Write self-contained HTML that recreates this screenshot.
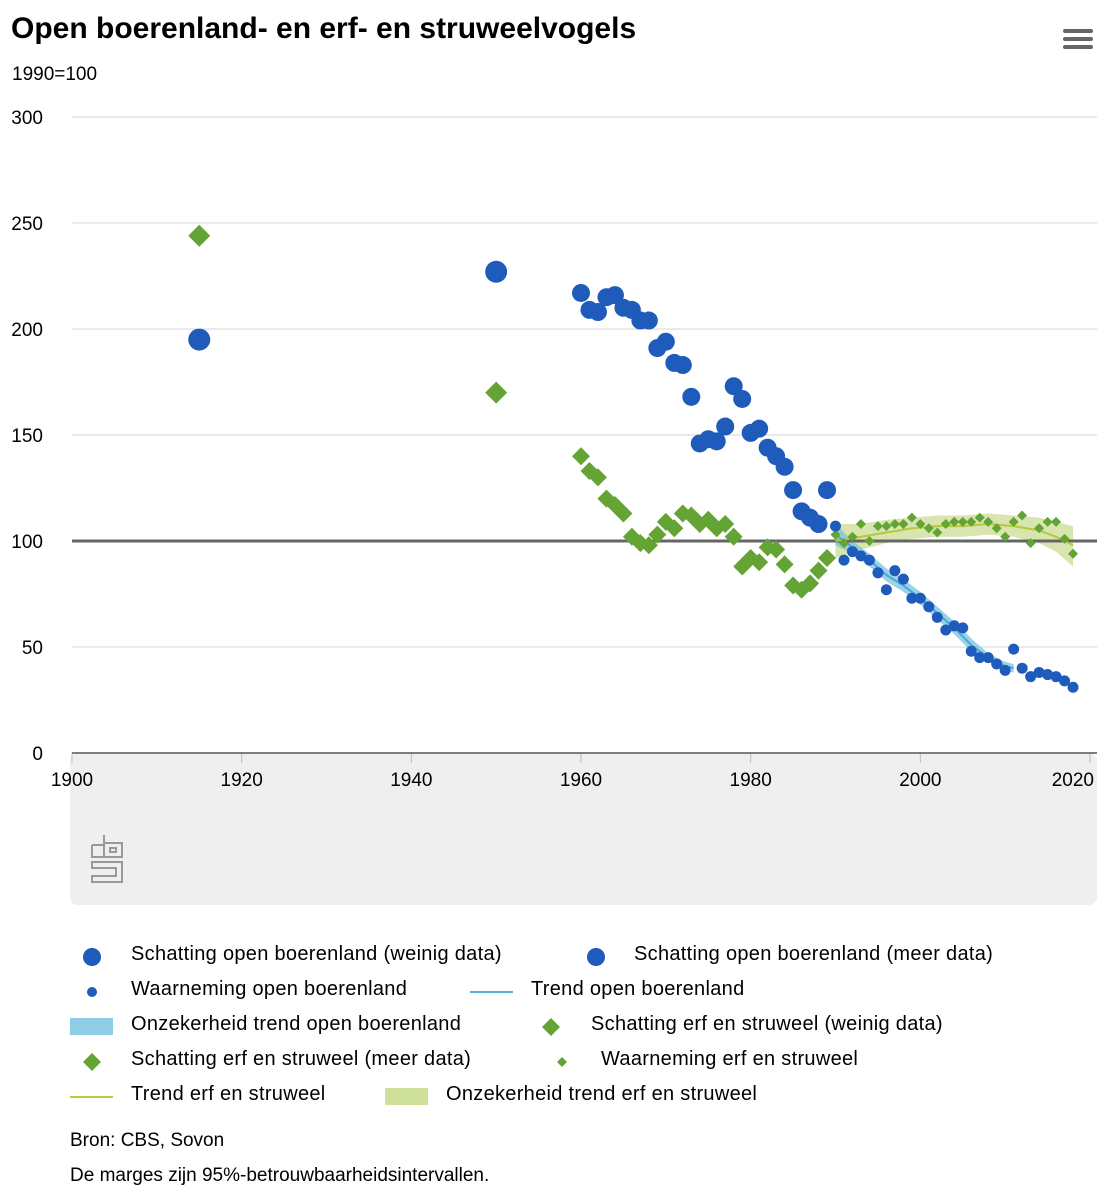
<!DOCTYPE html>
<html><head><meta charset="utf-8"><style>
body{margin:0;background:#fff;font-family:"Liberation Sans",sans-serif;color:#000}
#wrap{position:relative;width:1113px;height:1200px;overflow:hidden}
.t{position:absolute;white-space:nowrap}
.leg{position:absolute;font-size:20px;white-space:nowrap;letter-spacing:0.3px}
</style></head><body><div id="wrap">
<div class="t" style="left:11px;top:12px;font-size:30px;font-weight:bold;">Open boerenland- en erf- en struweelvogels</div>
<div class="t" style="left:12px;top:64px;font-size:19px;">1990=100</div>
<div style="position:absolute;left:1063px;top:29px;width:30px;height:24px;">
<div style="height:4px;background:#666;border-radius:2px;margin-bottom:4px"></div><div style="height:4px;background:#666;border-radius:2px;margin-bottom:4px"></div><div style="height:4px;background:#666;border-radius:2px"></div></div>
<svg id="c" width="1113" height="920" style="position:absolute;left:0;top:0"></svg>
<div class="leg" style="left:0;top:0">
<svg width="1113" height="1200" style="position:absolute;left:0;top:0">
<circle cx="92" cy="957" r="9" fill="#1f5bbb"/><circle cx="596" cy="957" r="9" fill="#1f5bbb"/>
<circle cx="92" cy="992" r="5" fill="#1f5bbb"/><line x1="470" y1="992" x2="513" y2="992" stroke="#5aafd8" stroke-width="2"/>
<rect x="70" y="1018" width="43" height="17" fill="#8fcde6"/><path d="M551 1018l9 9-9 9-9-9z" fill="#64a435"/>
<path d="M92 1053l9 9-9 9-9-9z" fill="#64a435"/><path d="M562 1057l5 5-5 5-5-5z" fill="#64a435"/>
<line x1="70" y1="1097" x2="113" y2="1097" stroke="#b8cc3c" stroke-width="2"/><rect x="385" y="1088" width="43" height="17" fill="#cfe09a"/>
</svg></div>
<div class="leg" style="left:131px;top:943px">Schatting open boerenland (weinig data)</div>
<div class="leg" style="left:634px;top:943px">Schatting open boerenland (meer data)</div>
<div class="leg" style="left:131px;top:978px">Waarneming open boerenland</div>
<div class="leg" style="left:531px;top:978px">Trend open boerenland</div>
<div class="leg" style="left:131px;top:1013px">Onzekerheid trend open boerenland</div>
<div class="leg" style="left:591px;top:1013px">Schatting erf en struweel (weinig data)</div>
<div class="leg" style="left:131px;top:1048px">Schatting erf en struweel (meer data)</div>
<div class="leg" style="left:601px;top:1048px">Waarneming erf en struweel</div>
<div class="leg" style="left:131px;top:1083px">Trend erf en struweel</div>
<div class="leg" style="left:446px;top:1083px">Onzekerheid trend erf en struweel</div>
<div class="t" style="left:70px;top:1130px;font-size:19px;">Bron: CBS, Sovon</div>
<div class="t" style="left:70px;top:1165px;font-size:19px;">De marges zijn 95%-betrouwbaarheidsintervallen.</div>
</div>
<script>
const yTicks=[0,50,100,150,200,250,300];
const xTicks=[1900,1920,1940,1960,1980,2000,2020];
const blueWeinigYears=[1915,1950];
const blueWeinig=[195,227];
const meerYears=[1960,1961,1962,1963,1964,1965,1966,1967,1968,1969,1970,1971,1972,1973,1974,1975,1976,1977,1978,1979,1980,1981,1982,1983,1984,1985,1986,1987,1988,1989];
const blueMeer=[217,209,208,215,216,210,209,204,204,191,194,184,183,168,146,148,147,154,173,167,151,153,144,140,135,124,114,111,108,124];
const obsYears=[1990,1991,1992,1993,1994,1995,1996,1997,1998,1999,2000,2001,2002,2003,2004,2005,2006,2007,2008,2009,2010,2011,2012,2013,2014,2015,2016,2017,2018];
const blueObs=[107,91,95,93,91,85,77,86,82,73,73,69,64,58,60,59,48,45,45,42,39,49,40,36,38,37,36,34,31];
const blueTrendYears=[1990,1992,1994,1996,1998,2000,2002,2004,2006,2008,2010,2011];
const blueTrend=[103,97,91,84,79,73,66,59,51,45,41,40];
const blueTrendLo=[98,94,88,81,76,70,63,56,48,43,39,38];
const blueTrendHi=[108,100,94,87,82,76,69,62,54,47,43,42];
const greenWeinig=[244,170];
const greenMeer=[140,133,130,120,117,113,102,99,98,103,109,106,113,112,108,110,106,108,102,88,92,90,97,96,89,79,77,80,86,92];
const greenObs=[103,99,102,108,100,107,107,108,108,111,108,106,104,108,109,109,109,111,109,106,102,109,112,99,106,109,109,101,94];
const greenTrendYears=[1990,1993,1996,1999,2002,2005,2008,2011,2014,2016,2018];
const greenTrend=[100,102,104,106,107,107,108,107,105,102,98];
const greenTrendLo=[92,96,99,101,102,102,103,102,99,95,88];
const greenTrendHi=[108,108,110,111,112,112,113,112,111,109,107];

const X=y=>72+(y-1900)*(1090-72)/120;
const Y=v=>753-v*(753-117)/300;
const svg=document.getElementById('c');const NS='http://www.w3.org/2000/svg';
function mk(tag,at,txt){const e=document.createElementNS(NS,tag);for(const k in at)e.setAttribute(k,at[k]);if(txt!==undefined)e.textContent=txt;svg.appendChild(e);return e;}
let g=mk('rect',{x:70,y:753,width:1027,height:152,rx:8,fill:'#efefef'});


yTicks.forEach(v=>{
 if(v>0&&v!==100){const l=mk('line',{x1:72,x2:1097,y1:Y(v),y2:Y(v),stroke:'#d6d6d6','stroke-width':1});
 
 }
 const t=mk('text',{x:43,y:Y(v)+7,'text-anchor':'end','font-size':19,fill:'#000'},String(v));
 
 
});
xTicks.forEach((v,i)=>{
 const l=mk('line',{x1:X(v),x2:X(v),y1:753,y2:763,stroke:'#bbb'});
 
 
 const last=i===xTicks.length-1;
 const t=mk('text',{x:last?1094:X(v),y:786,'text-anchor':last?'end':'middle','font-size':19,fill:'#000'},String(v));
 
 
});
let ax=mk('line',{x1:72,x2:1097,y1:753,y2:753,stroke:'#555','stroke-width':1.5});


let lg=mk('g',{fill:'none',stroke:'#999','stroke-width':2});


lg.innerHTML='<path d="M92 845h12M92 845v12h12M104 835v22h18v-14h-18M110 848h6v4h-6z M92 862h30v20h-30v-6h24v-8h-24z"/>';
function band(xs,lo,hi,fill,name){
 let d='M'+xs.map((y,i)=>X(y)+','+Y(hi[i])).join('L');
 d+='L'+xs.slice().reverse().map((y,i)=>X(y)+','+Y(lo[lo.length-1-i])).join('L')+'Z';
 const p=mk('path',{d:d,fill:fill});
 
 
}
function line(xs,vs,col,name){
 const p=mk('path',{d:'M'+xs.map((y,i)=>X(y)+','+Y(vs[i])).join('L'),fill:'none',stroke:col,'stroke-width':2});
 
 
}
band(greenTrendYears,greenTrendLo,greenTrendHi,'rgba(190,212,120,0.6)','band-erf');
band(blueTrendYears,blueTrendLo,blueTrendHi,'rgba(120,195,225,0.75)','band-open');
let rl=mk('line',{x1:72,x2:1097,y1:Y(100),y2:Y(100),stroke:'#666','stroke-width':3});


line(greenTrendYears,greenTrend,'#b5c93a','trend-erf');
line(blueTrendYears,blueTrend,'#4aa8d8','trend-open');
function circ(xs,vs,r,name){xs.forEach((y,i)=>{const c=mk('circle',{cx:X(y),cy:Y(vs[i]),r:r,fill:'#1f5bbb'});
 
 });}
function dia(xs,vs,r,name){xs.forEach((y,i)=>{const x=X(y),yy=Y(vs[i]);const c=mk('path',{d:`M${x} ${yy-r}L${x+r} ${yy}L${x} ${yy+r}L${x-r} ${yy}Z`,fill:'#64a435'});
 
 });}
dia(blueWeinigYears,greenWeinig,11,'point-erf-weinig');
dia(meerYears,greenMeer,9,'point-erf-meer');
circ(blueWeinigYears,blueWeinig,11,'point-open-weinig');
circ(meerYears,blueMeer,9,'point-open-meer');
dia(obsYears,greenObs,5,'point-erf-obs');
circ(obsYears,blueObs,5.5,'point-open-obs');
</script></body></html>
